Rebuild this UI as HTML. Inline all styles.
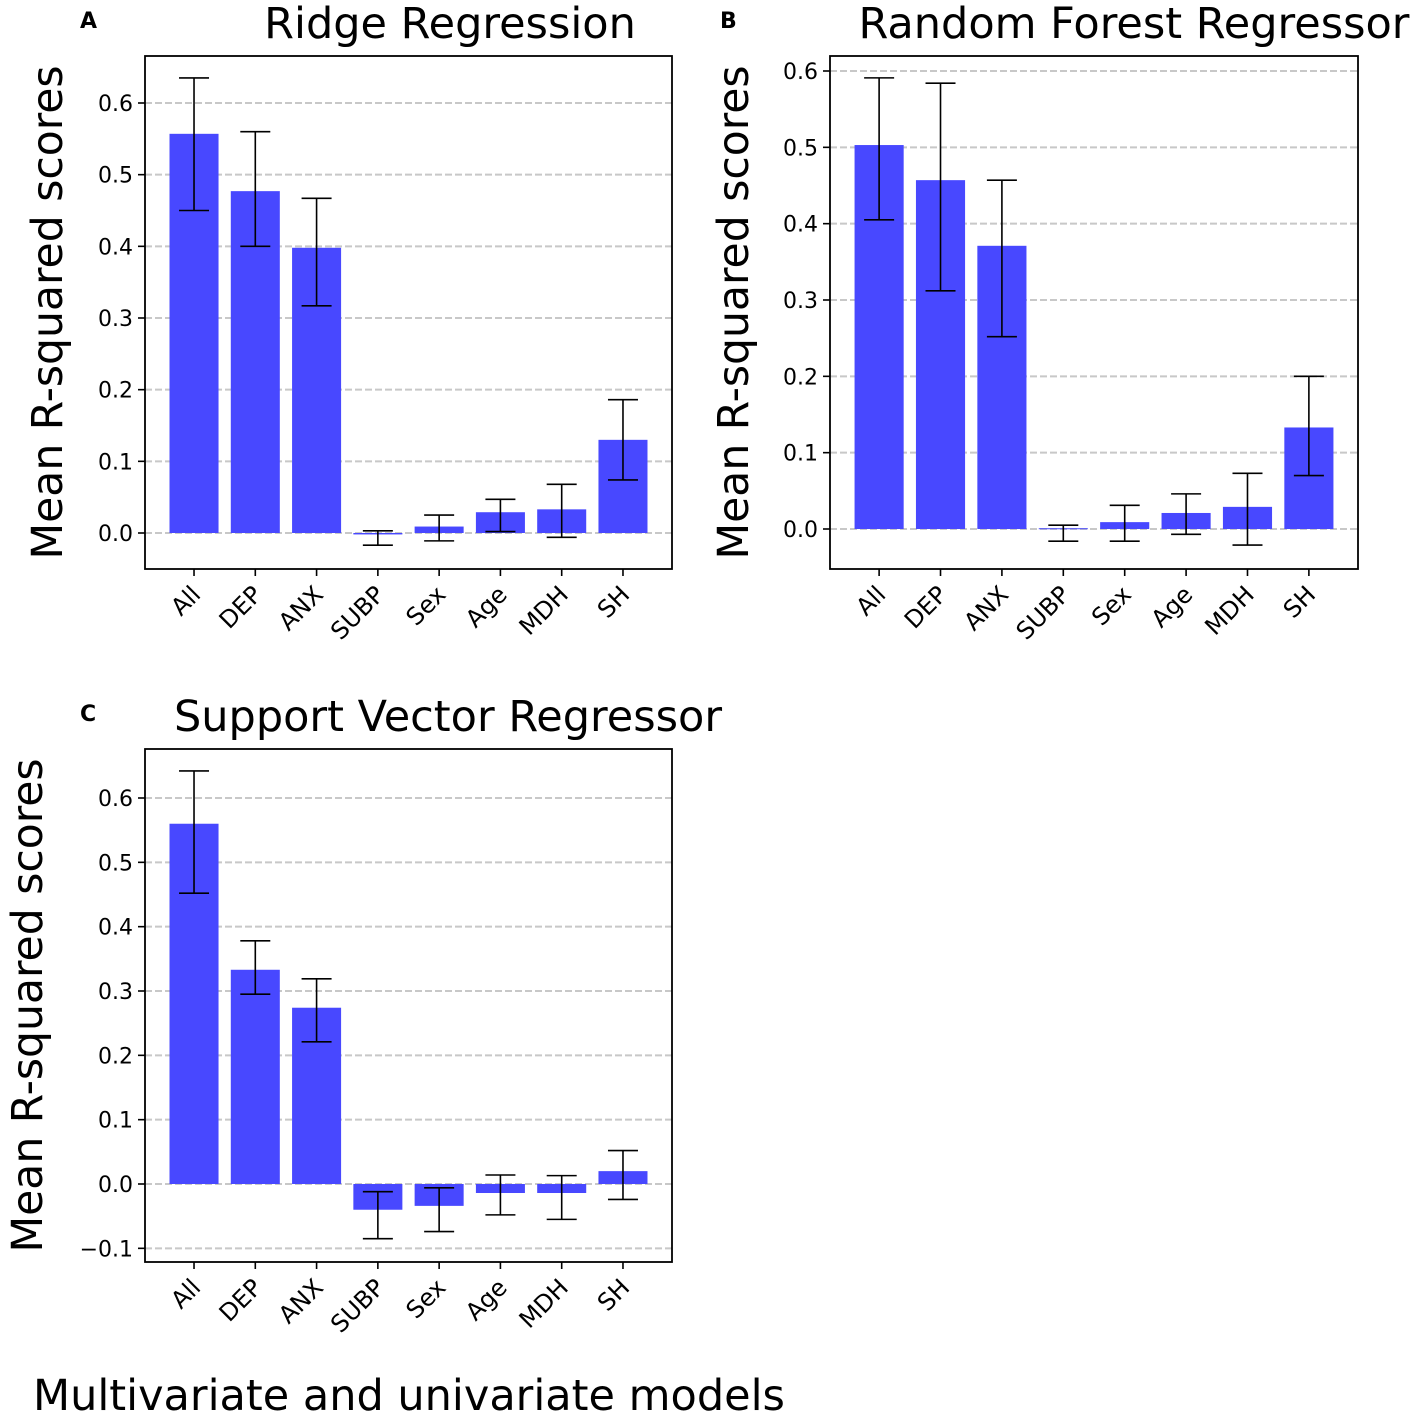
<!DOCTYPE html>
<html><head><meta charset="utf-8"><style>body{margin:0;background:#fff}svg{display:block;font-family:"DejaVu Sans","Liberation Sans",sans-serif}</style></head>
<body>
<svg id="fig" width="1417" height="1417" viewBox="0 0 1417 1417"></svg>
<script>
const categories = ["All","DEP","ANX","SUBP","Sex","Age","MDH","SH"];
const ridgeMeans = [0.557,0.477,0.398,-0.002,0.009,0.029,0.033,0.130];
const ridgeHi = [0.635,0.560,0.467,0.003,0.025,0.047,0.068,0.186];
const ridgeLo = [0.450,0.400,0.317,-0.017,-0.011,0.002,-0.006,0.074];
const rfMeans = [0.503,0.457,0.371,0.001,0.009,0.021,0.029,0.133];
const rfHi = [0.591,0.584,0.457,0.005,0.031,0.046,0.073,0.200];
const rfLo = [0.405,0.312,0.252,-0.016,-0.016,-0.007,-0.021,0.070];
const svrMeans = [0.560,0.333,0.274,-0.040,-0.034,-0.014,-0.014,0.020];
const svrHi = [0.642,0.378,0.319,-0.012,-0.006,0.014,0.013,0.052];
const svrLo = [0.452,0.295,0.221,-0.085,-0.074,-0.048,-0.055,-0.024];
const ticksAB = [0,0.1,0.2,0.3,0.4,0.5,0.6];
const ticksC = [-0.1,0,0.1,0.2,0.3,0.4,0.5,0.6];

const NS="http://www.w3.org/2000/svg";
const svg=document.getElementById('fig');
function mk(tag,attrs,parent,text){const e=document.createElementNS(NS,tag);for(const k in attrs)e.setAttribute(k,attrs[k]);if(text!==undefined)e.textContent=text;(parent||svg).appendChild(e);return e;}

function panel(cfg){
  const g=mk('g',{});
  
  
  const {x0,x1,yTop,yBot,v0,y0,v1,y1}=cfg;
  const ys=v=>y0+(v-v0)*(y1-y0)/(v1-v0);
  const step=(x1-x0)/8.6;
  const xs=i=>x0+step*(0.8+i);
  const bw=step*0.8;
  cfg.ticks.forEach(t=>{
    const y=ys(t);
    const gl=mk('line',{x1:x0,x2:x1,y1:y,y2:y,stroke:'#c8c8c8','stroke-width':2,'stroke-dasharray':'7,3'},g);
    
    
    mk('line',{x1:x0-7,x2:x0,y1:y,y2:y,stroke:'#000','stroke-width':1.6},g);
    const lab=mk('text',{x:x0-12,y:y+8,'text-anchor':'end','font-size':22},g,(t<0?'\u2212'+Math.abs(t).toFixed(1):t.toFixed(1)));
    
    
  });
  categories.forEach((c,i)=>{
    const m=cfg.means[i];
    const top=ys(Math.max(m,0)),bot=ys(Math.min(m,0));
    const r=mk('rect',{x:xs(i)-bw/2,y:top,width:bw,height:Math.max(bot-top,1),fill:'#4848ff'},g);
    
    
    const hy=ys(cfg.hi[i]),ly=ys(cfg.lo[i]);
    mk('line',{x1:xs(i),x2:xs(i),y1:hy,y2:ly,stroke:'#000','stroke-width':1.6},g);
    mk('line',{x1:xs(i)-15,x2:xs(i)+15,y1:hy,y2:hy,stroke:'#000','stroke-width':1.6},g);
    mk('line',{x1:xs(i)-15,x2:xs(i)+15,y1:ly,y2:ly,stroke:'#000','stroke-width':1.6},g);
    mk('line',{x1:xs(i),x2:xs(i),y1:yBot,y2:yBot+7,stroke:'#000','stroke-width':1.6},g);
    const tl=mk('text',{transform:`translate(${xs(i)+8},${yBot+27}) rotate(-45)`,'text-anchor':'end','font-size':24},g,c);
    
    
  });
  mk('rect',{x:x0,y:yTop,width:x1-x0,height:yBot-yTop,fill:'none',stroke:'#000','stroke-width':1.8},g);
  const yt=mk('text',{transform:`translate(${cfg.ytx},${(yTop+yBot)/2}) rotate(-90)`,'text-anchor':'middle','font-size':42.5},g,'Mean R-squared scores');
  
  
  const ti=mk('text',{x:cfg.tx,y:cfg.ty,'text-anchor':'middle','font-size':43},g,cfg.title);
  
  
  const le=mk('text',{x:cfg.lx,y:cfg.ly,'font-size':22,'font-weight':'bold'},g,cfg.letter);
  
  
}
panel({name:'panel-ridge',x0:145,x1:672,yTop:56,yBot:569,v0:0,y0:533,v1:0.6,y1:103,ticks:ticksAB,means:ridgeMeans,hi:ridgeHi,lo:ridgeLo,ytx:62,tx:450,ty:38,title:'Ridge Regression',letter:'A',lx:80,ly:28});
panel({name:'panel-random-forest',x0:830,x1:1358,yTop:56,yBot:569,v0:0,y0:529,v1:0.6,y1:71,ticks:ticksAB,means:rfMeans,hi:rfHi,lo:rfLo,ytx:748,tx:1134,ty:38,title:'Random Forest Regressor',letter:'B',lx:720,ly:28});
panel({name:'panel-svr',x0:145,x1:672,yTop:749,yBot:1262,v0:0,y0:1184,v1:0.6,y1:798,ticks:ticksC,means:svrMeans,hi:svrHi,lo:svrLo,ytx:42,tx:448,ty:731,title:'Support Vector Regressor',letter:'C',lx:80,ly:721});
const xl=mk('text',{x:33,y:1410,'font-size':43},svg,'Multivariate and univariate models');


</script>
</body></html>
